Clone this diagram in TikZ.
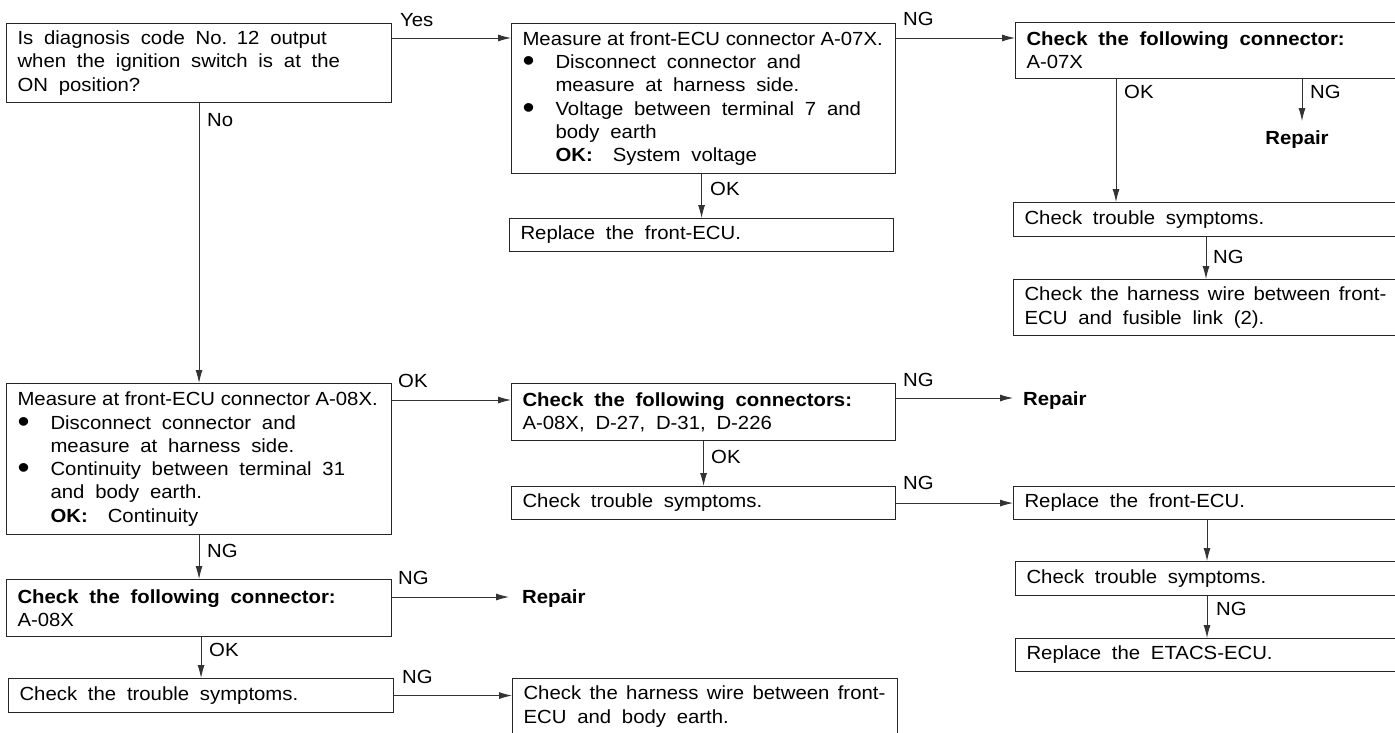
\documentclass[tikz,border=0pt]{standalone}
\usepackage{fontspec}
\setmainfont{Liberation Sans}[FakeStretch=1.07]
\usetikzlibrary{arrows.meta}
\newcommand\fs{\fontsize{19}{23.3}\selectfont}
\newcommand\wsp{\spaceskip=10.8pt plus 2pt minus 2pt\relax}
\newcommand\bul{\makebox[33pt][l]{\raisebox{-3pt}{\fontsize{32}{23.3}\selectfont\textbullet}}}
\newcommand\ind{\hspace*{33pt}}
\newcommand\tight[2]{\mbox{\spaceskip=#1\relax #2}}
\begin{document}
\begin{tikzpicture}[x=1pt,y=1pt,
  box/.style={draw=black!85,line width=1.1pt,anchor=north west,inner xsep=11pt,inner ysep=0pt,align=left,font=\fs,execute at begin node=\wsp},
  lab/.style={anchor=base west,inner sep=0pt,font=\fs},
  rep/.style={inner ysep=0pt,font=\fs\bfseries},
  arr/.style={draw=black!80,line width=0.9pt,-{Latex[length=13pt,width=7pt]}}]
\path[use as bounding box] (0,0) rectangle (1395,-733);
\fill[white] (0,0) rectangle (1395,-733);
\clip (0,0) rectangle (1395,-733);

% boxes
\node[box,text width=363pt,minimum height=79pt] (q) at (6,-23)
  {\mbox{Is diagnosis code No. 12 output}\\\mbox{when the ignition switch is at the}\\ON position?};
\node[box,text width=362pt,minimum height=150pt] (m7) at (511,-23)
  {\tight{5.6pt}{Measure at front-ECU connector A-07X.}\\
   \bul Disconnect connector and\\
   \ind measure at harness side.\\
   \bul Voltage between terminal 7 and\\
   \ind body earth\\
   \ind\textbf{OK:}\hspace*{20pt}System voltage};
\node[box,text width=362pt,minimum height=33pt] (r1) at (509,-218) {Replace the front-ECU.};
\node[box,text width=363pt,minimum height=56pt] (c7) at (1015,-22)
  {\textbf{Check the following connector:}\\A-07X};
\node[box,text width=365pt,minimum height=34pt] (t1) at (1013,-202) {Check trouble symptoms.};
\node[box,text width=365pt,minimum height=56pt] (h1) at (1013,-279)
  {\tight{8.4pt}{Check the harness wire between front-}\\ECU and fusible link (2).};
\node[box,text width=363pt,minimum height=151pt] (m8) at (6,-383)
  {\tight{5.6pt}{Measure at front-ECU connector A-08X.}\\
   \bul Disconnect connector and\\
   \ind measure at harness side.\\
   \bul Continuity between terminal 31\\
   \ind and body earth.\\
   \ind\textbf{OK:}\hspace*{20pt}Continuity};
\node[box,text width=362pt,minimum height=57pt] (cc) at (511,-383)
  {\textbf{Check the following connectors:}\\A-08X, D-27, D-31, D-226};
\node[box,text width=362pt,minimum height=33pt] (t2) at (511,-486) {Check trouble symptoms.};
\node[box,text width=365pt,minimum height=33pt] (r2) at (1013,-486) {Replace the front-ECU.};
\node[box,text width=363pt,minimum height=34pt] (t3) at (1015,-561) {Check trouble symptoms.};
\node[box,text width=363pt,minimum height=33pt] (e) at (1015,-638) {Replace the ETACS-ECU.};
\node[box,text width=363pt,minimum height=57pt] (c8) at (6,-579)
  {\textbf{Check the following connector:}\\A-08X};
\node[box,text width=363pt,minimum height=34pt] (t4) at (8,-678) {Check the trouble symptoms.};
\node[box,text width=363pt,minimum height=56pt] (h2) at (512,-678)
  {\tight{8.4pt}{Check the harness wire between front-}\\ECU and body earth.};

% repair texts
\node[rep,anchor=base,inner xsep=0pt,inner ysep=10pt] (rep1) at (1297,-145) {Repair};
\node[rep,anchor=base west,inner xsep=10pt] (rep2) at (1013,-405) {Repair};
\node[rep,anchor=base west,inner xsep=13pt] (rep3) at (509,-603) {Repair};

% labels
\node[lab] (lyes) at (400,-27) {Yes};
\node[lab] (lno) at (207,-127) {No};
\node[lab] (lng1) at (903,-26) {NG};
\node[lab] (lok1) at (710,-195) {OK};
\node[lab] (lok2) at (1124,-99) {OK};
\node[lab] (lng2) at (1310,-99) {NG};
\node[lab] (lng3) at (1213,-263) {NG};
\node[lab] (lok3) at (398,-387) {OK};
\node[lab] (lng4) at (207,-557) {NG};
\node[lab] (lng5) at (398,-584) {NG};
\node[lab] (lok4) at (209,-656) {OK};
\node[lab] (lng6) at (402,-683) {NG};
\node[lab] (lng7) at (903,-386) {NG};
\node[lab] (lok5) at (711,-463) {OK};
\node[lab] (lng8) at (903,-489) {NG};
\node[lab] (lng9) at (1216,-615) {NG};

% connectors
\draw[arr] ([yshift=-15pt]q.north east) coordinate (s1) -- (s1 -| m7.west);
\draw[arr] (q.south) -- (q.south |- m8.north);
\draw[arr] ([yshift=-15pt]m7.north east) coordinate (s2) -- (s2 -| c7.west);
\draw[arr] (r1.north |- m7.south) -- (r1.north);
\draw[arr] ([xshift=101pt]c7.south west) coordinate (s3) -- (s3 |- t1.north);
\draw[arr] ([xshift=287pt]c7.south west) coordinate (s4) -- (s4 |- rep1.north);
\draw[arr] ([xshift=193pt]t1.south west) coordinate (s5) -- (s5 |- h1.north);
\draw[arr] ([yshift=-17pt]m8.north east) coordinate (s6) -- (s6 -| cc.west);
\draw[arr] ([yshift=-15pt]cc.north east) coordinate (s7) -- (s7 -| rep2.west);
\draw[arr] (cc.south) -- (t2.north);
\draw[arr] (t2.east) -- (t2.east -| r2.west);
\draw[arr] ([xshift=194pt]r2.south west) coordinate (s8) -- (s8 |- t3.north);
\draw[arr] ([xshift=192pt]t3.south west) coordinate (s9) -- (s9 |- e.north);
\draw[arr] (m8.south) -- (m8.south |- c8.north);
\draw[arr] (t4.north |- c8.south) -- (t4.north);
\draw[arr] ([yshift=-18pt]c8.north east) coordinate (s10) -- (s10 -| rep3.west);
\draw[arr] (t4.east) -- (t4.east -| h2.west);
\end{tikzpicture}
\end{document}
